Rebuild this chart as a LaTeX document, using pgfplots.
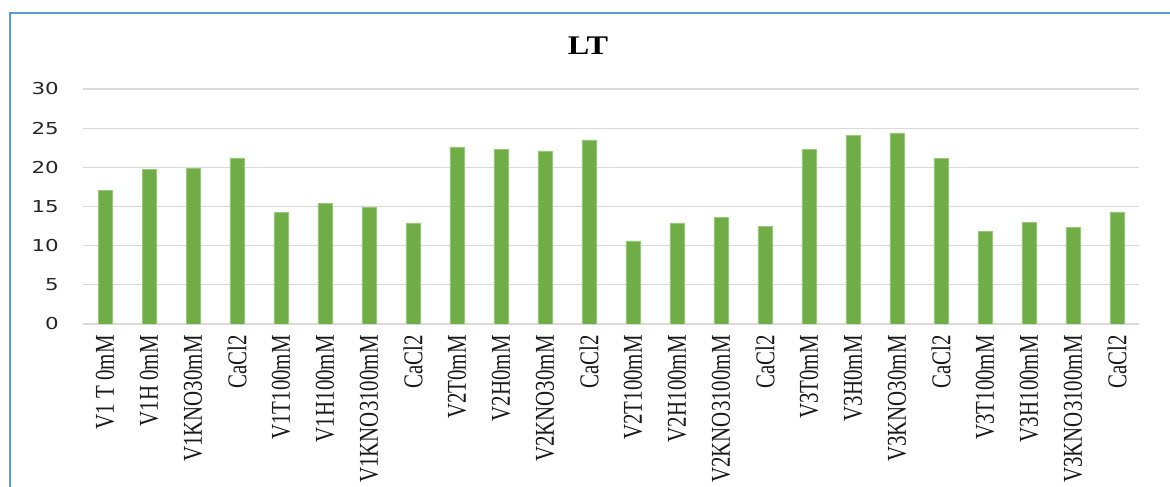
\documentclass[border=0pt]{standalone}
\usepackage{fontspec}
\setmainfont{Liberation Serif}
\newfontfamily\tickfont[FakeStretch=1.3]{DejaVu Sans}
\newfontfamily\titlefont[FakeStretch=1.2]{Liberation Serif}
\usepackage{pgfplots}
\pgfplotsset{compat=1.18}
\definecolor{bargreen}{HTML}{70AD47}
\definecolor{gridgray}{HTML}{D9D9D9}
\definecolor{frameblue}{HTML}{5B9BD5}
\newcommand\xl[1]{\scalebox{1}[1.3]{#1}}

\pgfplotstableread{
idx  lt
0    17.1
1    19.7
2    19.9
3    21.2
4    14.2
5    15.4
6    14.9
7    12.9
8    22.6
9    22.3
10   22.1
11   23.5
12   10.6
13   12.9
14   13.6
15   12.5
16   22.3
17   24.1
18   24.4
19   21.1
20   11.8
21   13.0
22   12.3
23   14.3
}\ltdata

\begin{document}
\begin{tikzpicture}[x=1bp,y=1bp]
\path[use as bounding box] (0,0) rectangle (1170,487);
\draw[frameblue, line width=2.2bp] (10,-5) -- (10,474) -- (1180,474);
\node[font=\titlefont\bfseries\fontsize{27}{30}\selectfont] at (588,441) {LT};
\begin{axis}[
  at={(83bp,163bp)}, anchor=south west,
  width=1056bp, height=235bp, scale only axis,
  xmin=-0.5, xmax=23.5, ymin=0, ymax=30,
  ytick={0,5,...,30},
  xtick={0,...,23},
  xticklabels={\xl{V1 T 0mM},\xl{V1H 0mM},\xl{V1KNO30mM},\xl{CaCl2},
    \xl{V1T100mM},\xl{V1H100mM},\xl{V1KNO3100mM},\xl{CaCl2},
    \xl{V2T0mM},\xl{V2H0mM},\xl{V2KNO30mM},\xl{CaCl2},
    \xl{V2T100mM},\xl{V2H100mM},\xl{V2KNO3100mM},\xl{CaCl2},
    \xl{V3T0mM},\xl{V3H0mM},\xl{V3KNO30mM},\xl{CaCl2},
    \xl{V3T100mM},\xl{V3H100mM},\xl{V3KNO3100mM},\xl{CaCl2}},
  axis x line*=bottom, axis y line*=left,
  y axis line style={draw=none},
  x axis line style={draw=gridgray, line width=1.5bp},
  major tick length=0pt,
  ymajorgrids, grid style={draw=gridgray, line width=1.2bp},
  /pgf/number format/assume math mode=true,
  yticklabel style={font=\tickfont\fontsize{16.5}{18}\selectfont, text=black!85,
    anchor=east, inner sep=0pt, xshift=-24bp},
  xticklabel style={font=\fontsize{21}{23}\selectfont, text=black!90,
    rotate=90, anchor=east, inner sep=0pt, xshift=-11bp},
  ybar, bar width=14bp,
]
\addplot[fill=bargreen, draw=bargreen!70!white, line width=0.7bp] table[x=idx, y=lt] {\ltdata};
\end{axis}
\end{tikzpicture}
\end{document}
